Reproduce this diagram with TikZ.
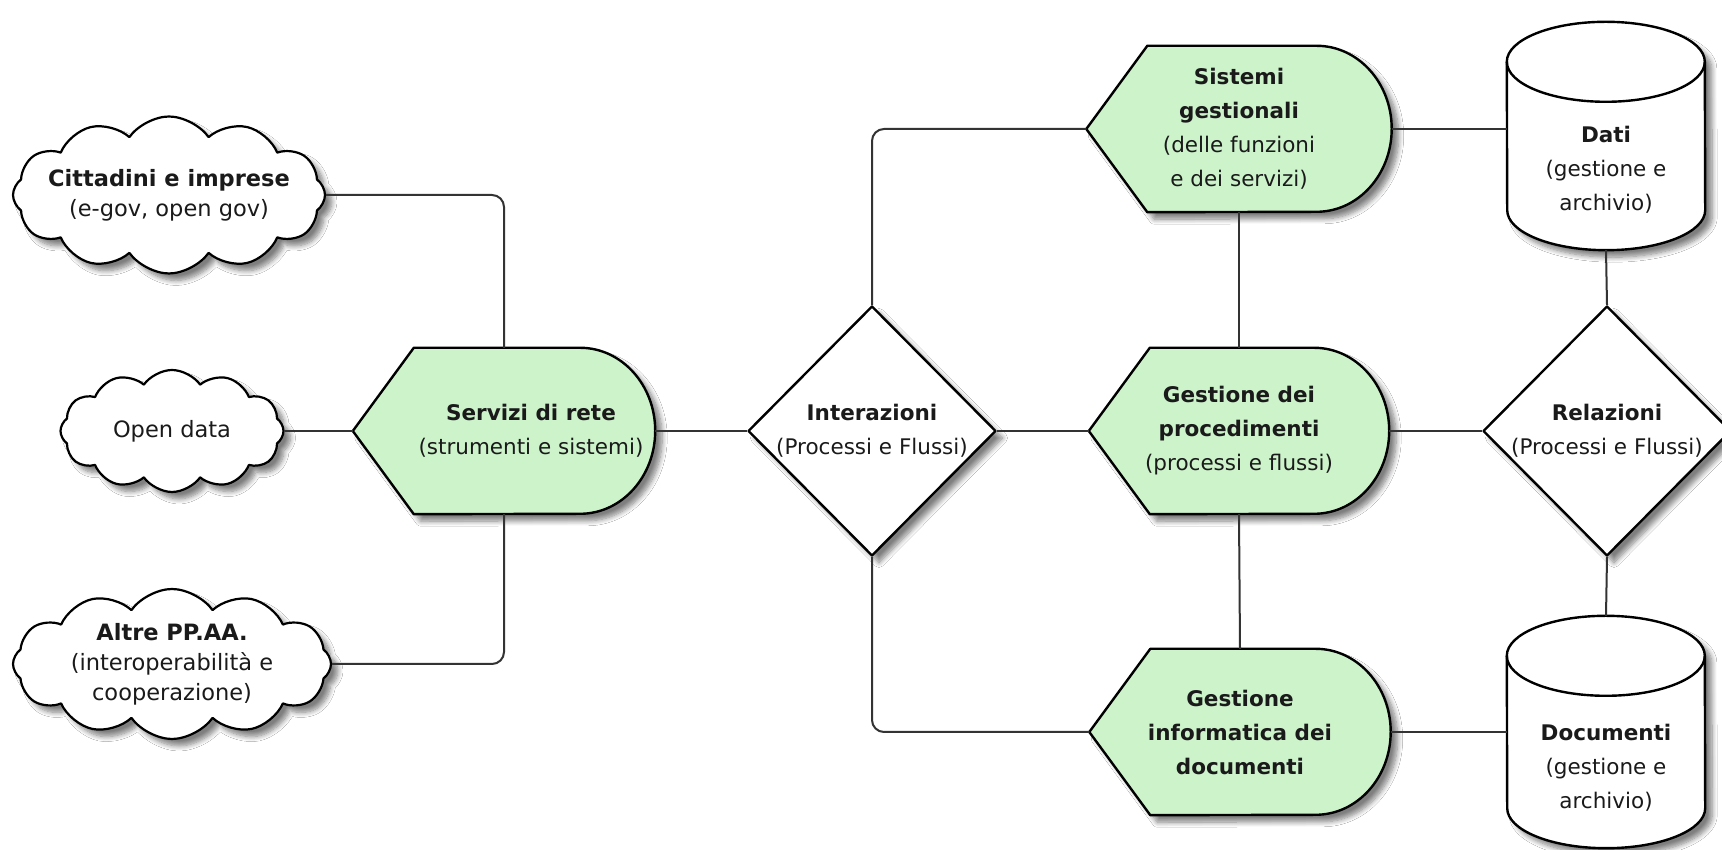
\documentclass[tikz,border=0pt]{standalone}
\usepackage{fontspec}
\setmainfont{DejaVu Sans}
\usetikzlibrary{shapes.geometric,shapes.symbols,backgrounds,calc,shadows.blur}

\definecolor{mint}{HTML}{CDF3CA}
\definecolor{wire}{HTML}{333333}
\definecolor{ink}{HTML}{1A1A1A}

\tikzset{
  outline/.style={draw=black, line width=2.4pt, line join=round},
  softshadow/.style={blur shadow={shadow xshift=7pt, shadow yshift=-7pt, shadow blur steps=8, shadow opacity=50, shadow blur radius=5pt}},
  wirelink/.style={draw=wire, line width=2pt, rounded corners=12pt},
  cloudbox/.style={cloud, cloud puffs=12, cloud puff arc=110, outline, line width=2.2pt, fill=white, softshadow, inner sep=0pt},
  gate/.style={diamond, outline, fill=white, softshadow, minimum width=248pt, minimum height=250pt, inner sep=0pt},
  panel/.style={rectangle, inner sep=0pt, minimum height=166pt},
  drum/.style={rectangle, inner sep=0pt, minimum width=198pt},
  txt/.style={align=center, text=ink, font=\fontsize{21.5}{34}\selectfont},
  cloudtxt/.style={align=center, text=ink, font=\fontsize{22.5}{30}\selectfont},
}

% green "display" outline: pointed on the left, rounded on the right
\newcommand\panelshape[1]{%
  \path[outline, fill=mint, softshadow] (#1.west) -- ([xshift=61pt]#1.north west)
    -- ([xshift=-75pt]#1.north east)
    arc[start angle=90, end angle=-90, x radius=75pt, y radius=83pt]
    -- ([xshift=61pt]#1.south west) -- cycle;}

% upright storage drum
\newcommand\drumshape[1]{%
  \path[outline, fill=white, softshadow] ([yshift=-40pt]#1.north west)
    arc[start angle=180, end angle=0, x radius=99pt, y radius=40pt]
    -- ([yshift=40pt]#1.south east)
    arc[start angle=0, end angle=-180, x radius=99pt, y radius=40pt] -- cycle;
  \draw[outline] ([yshift=-40pt]#1.north west)
    arc[start angle=180, end angle=360, x radius=99pt, y radius=40pt];}

\begin{document}
\begin{tikzpicture}[x=1pt, y=1pt]
\useasboundingbox (0,0) rectangle (1722,850);

% sources on the left
\node[cloudbox, minimum width=312pt, minimum height=157pt,
  label={[cloudtxt]center:{\textbf{Cittadini e imprese}\\(e-gov, open gov)}}] (citt) at (169,655) {};
\node[cloudbox, minimum width=223pt, minimum height=122pt,
  label={[cloudtxt]center:{Open data}}] (open) at (172,419) {};
\node[cloudbox, minimum width=318pt, minimum height=150pt,
  label={[cloudtxt]center:{\textbf{Altre PP.AA.}\\(interoperabilità e\\cooperazione)}}] (altre) at (172,186) {};

% processing blocks
\node[panel, minimum width=302pt,
  label={[txt, xshift=27pt]center:{\textbf{Servizi di rete}\\(strumenti e sistemi)}}] (serv) at (504,419) {};
\node[panel, minimum width=305pt,
  label={[txt]center:{\textbf{Sistemi}\\\textbf{gestionali}\\(delle funzioni\\e dei servizi)}}] (sist) at (1239,721) {};
\node[panel, minimum width=300pt,
  label={[txt]center:{\textbf{Gestione dei}\\\textbf{procedimenti}\\(processi e flussi)}}] (gproc) at (1239,419) {};
\node[panel, minimum width=301pt,
  label={[txt]center:{\textbf{Gestione}\\\textbf{informatica dei}\\\textbf{documenti}}}] (ginf) at (1240,118) {};

% decisions
\node[gate, label={[txt]center:{\textbf{Interazioni}\\(Processi e Flussi)}}] (inter) at (872,419) {};
\node[gate, label={[txt]center:{\textbf{Relazioni}\\(Processi e Flussi)}}] (rel) at (1607,419) {};

% stores
\node[drum, minimum height=228pt,
  label={[txt, yshift=-34pt]center:{\textbf{Dati}\\(gestione e\\archivio)}}] (dati) at (1606,714) {};
\node[drum, minimum height=232pt,
  label={[txt, yshift=-36pt]center:{\textbf{Documenti}\\(gestione e\\archivio)}}] (docu) at (1606,118) {};

\begin{scope}[on background layer]
  \fill[white] (0,0) rectangle (1722,850);
  \panelshape{serv}
  \panelshape{sist}
  \panelshape{gproc}
  \panelshape{ginf}
  \drumshape{dati}
  \drumshape{docu}
\end{scope}

% connectors
\draw[wirelink] (citt.east) -| (serv.north);
\draw[wirelink] (open.east) -- (serv.west);
\draw[wirelink] (altre.east) -| (serv.south);
\draw[wirelink] (serv.east) -- (inter.west);
\draw[wirelink] (inter.north) |- (sist.west);
\draw[wirelink] (inter.south) |- (ginf.west);
\draw[wirelink] (inter.east) -- (gproc.west);
\draw[wirelink] (sist.south) -- (gproc.north);
\draw[wirelink] (gproc.south) -- (ginf.north);
\draw[wirelink] (sist.east) -- (sist.east -| dati.west);
\draw[wirelink] (gproc.east) -- (rel.west);
\draw[wirelink] (ginf.east) -- (docu.west);
\draw[wirelink] (dati.south) -- (rel.north);
\draw[wirelink] (rel.south) -- (docu.north);
\end{tikzpicture}
\end{document}
